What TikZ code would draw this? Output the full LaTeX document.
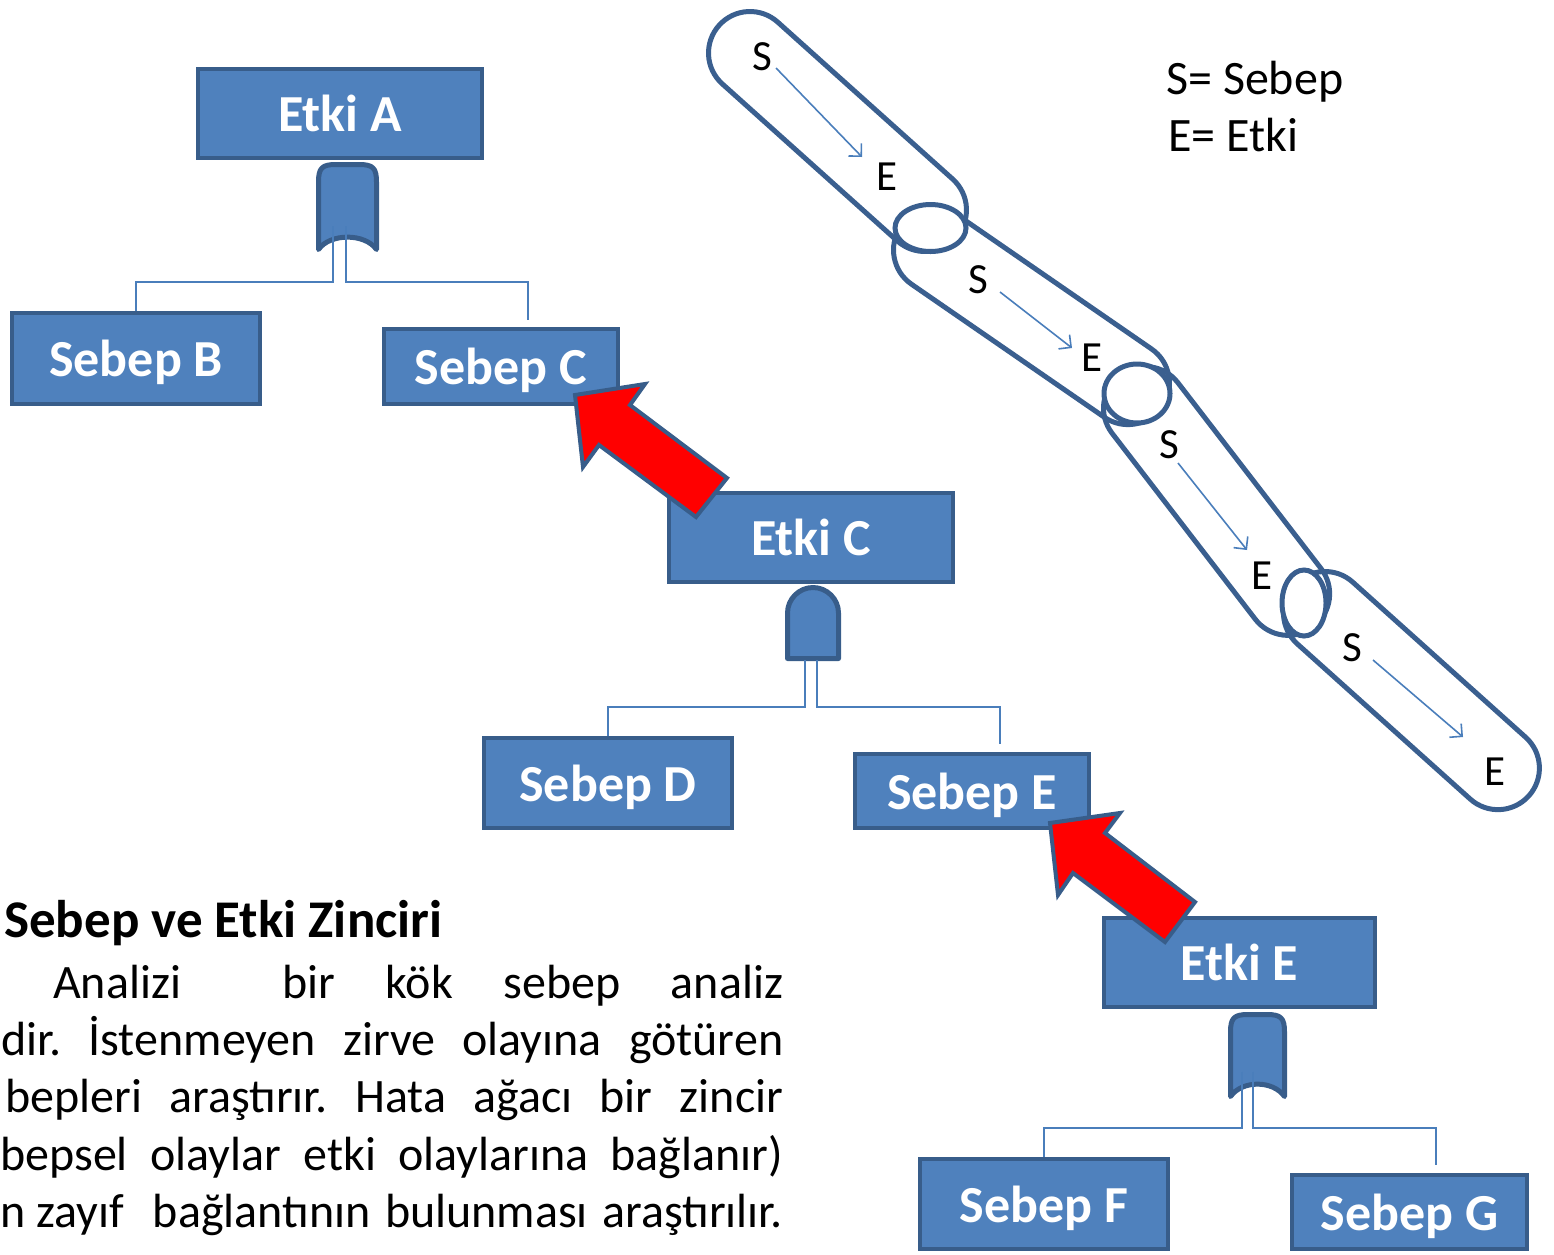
\documentclass[tikz,border=0pt]{standalone}
\usepackage{fontspec}
\setmainfont{Carlito}
\usetikzlibrary{arrows.meta}
\definecolor{boxfill}{HTML}{4F81BD}
\definecolor{boxline}{HTML}{385D8A}
\definecolor{connc}{HTML}{4A7EBB}
\definecolor{chainc}{HTML}{3A5F8F}
\tikzset{
  box/.style={draw=boxline, fill=boxfill, line width=4pt, text=white,
    font=\bfseries\fontsize{52}{60}\selectfont, inner sep=0pt, text height=36pt, text depth=0pt},
  gate/.style={draw=boxline, fill=boxfill, line width=5pt, line join=round, line cap=round},
  conn/.style={draw=connc, line width=2pt},
  chainline/.style={draw=chainc, line width=5pt},
  chainlbl/.style={font=\fontsize{43}{50}\selectfont, inner sep=0pt},
  sarrow/.style={draw=connc, line width=1.6pt, -{Straight Barb[length=9pt,width=18pt,line width=1.6pt]}},
  redarrow/.style={fill=red, draw=boxline, line width=4pt},
  bodytxt/.style={font=\fontsize{48}{57}\selectfont, inner sep=0pt, anchor=base west},
}
% capsule: #1 = length between cap centres
\newcommand\mycapsule[1]{%
  \draw[chainline] (0,-41.5) -- (#1,-41.5)
    .. controls ({#1+22.92},-41.5) and ({#1+41.5},-22.92) .. ({#1+41.5},0)
    .. controls ({#1+41.5},22.92) and ({#1+22.92},41.5) .. (#1,41.5)
    -- (0,41.5) .. controls (-22.92,41.5) and (-41.5,22.92) .. (-41.5,0)
    .. controls (-41.5,-22.92) and (-22.92,-41.5) .. (0,-41.5) -- cycle;}
\begin{document}
\begin{tikzpicture}[x=1pt,y=-1pt]
\useasboundingbox (0,0) rectangle (1554,1254);
\clip (0,0) rectangle (1554,1254);

% ---------- gates ----------
\draw[gate] (318.5,249.5) -- (318.5,182) .. controls (318.5,168) and (322,164.5) .. (336,164.5)
  -- (359,164.5) .. controls (373,164.5) and (376.5,168) .. (376.5,182) -- (376.5,249.5)
  .. controls (365,233) and (330,233) .. cycle;
\draw[gate] (787.5,658.5) -- (787.5,613) .. controls (787.5,599) and (799,587.5) .. (813,587.5)
  .. controls (827,587.5) and (838.5,599) .. (838.5,613) -- (838.5,658.5) -- cycle;
\draw[gate] (1230.5,1096.5) -- (1230.5,1032) .. controls (1230.5,1018) and (1234,1014.5) .. (1248,1014.5)
  -- (1267,1014.5) .. controls (1281,1014.5) and (1284.5,1018) .. (1284.5,1032) -- (1284.5,1096.5)
  .. controls (1273,1080) and (1242,1080) .. cycle;

% ---------- boxes ----------
\node[box, minimum width=284, minimum height=89] (eA) at (340,113.5) {Etki A};
\node[box, minimum width=248, minimum height=91] (sB) at (136,358.5) {Sebep B};
\node[box, minimum width=234, minimum height=75] (sC) at (501,366.5) {Sebep C};
\node[box, minimum width=284, minimum height=89] (eC) at (811,537.5) {Etki C};
\node[box, minimum width=248, minimum height=90] (sD) at (608,783) {Sebep D};
\node[box, minimum width=234, minimum height=74] (sE) at (972,791) {Sebep E};
\node[box, minimum width=271, minimum height=89] (eE) at (1239.5,962.5) {Etki E};
\node[box, minimum width=248, minimum height=90] (sF) at (1044,1204) {Sebep F};
\node[box, minimum width=235, minimum height=74] (sG) at (1409.5,1212) {Sebep G};

% ---------- connectors ----------
\coordinate (gAl) at (333.3,226); \coordinate (gAr) at (345.7,226);
\coordinate (jAl) at (333.3,282.3); \coordinate (jAr) at (345.7,282.3);
\coordinate (tC) at (528,320);
\draw[conn] (gAl) -- (jAl) -| (sB.north);
\draw[conn] (gAr) -- (jAr) -| (tC);

\coordinate (gCl) at (805,660); \coordinate (gCr) at (817.3,660);
\coordinate (jCl) at (805,706.7); \coordinate (jCr) at (817.3,706.7);
\coordinate (tE) at (1000,744);
\draw[conn] (gCl) -- (jCl) -| (sD.north);
\draw[conn] (gCr) -- (jCr) -| (tE);

\coordinate (gEl) at (1241.7,1071.7); \coordinate (gEr) at (1253.3,1071.7);
\coordinate (jEl) at (1241.7,1128.3); \coordinate (jEr) at (1253.3,1128.3);
\coordinate (tG) at (1436,1165);
\draw[conn] (gEl) -- (jEl) -| (sF.north);
\draw[conn] (gEr) -- (jEr) -| (tG);

% ---------- red arrows ----------
\draw[redarrow] (575,395) -- (645,384) -- (630,405) -- (727,478) -- (696,517) -- (599,445) -- (583,467) -- cycle;
\draw[redarrow] (1050,823) -- (1120,813) -- (1105,833) -- (1195,902) -- (1165,942) -- (1073,873) -- (1058,895) -- cycle;

% ---------- chain ----------
\begin{scope}[shift={(750,53)}, rotate=-41.9]\mycapsule{235.1}\end{scope}
\begin{scope}[shift={(935,250)}, rotate=-34.6]\mycapsule{234.4}\end{scope}
\begin{scope}[shift={(1145,408)}, rotate=-52.4]\mycapsule{234.6}\end{scope}
\begin{scope}[shift={(1325,613)}, rotate=-41.9]\mycapsule{232.3}\end{scope}
\draw[chainline, fill=white] (930.5,228) ellipse [x radius=35.5, y radius=23.5];
\draw[chainline, fill=white] (1137,393.5) ellipse [x radius=33, y radius=29.5];
\draw[chainline, fill=white] (1304,603) ellipse [x radius=22, y radius=33];

\node[chainlbl] (s1) at (762,57) {S};
\node[chainlbl] (e1) at (887,177) {E};
\node[chainlbl] (s2) at (978,280) {S};
\node[chainlbl] (e2) at (1092,358) {E};
\node[chainlbl] (s3) at (1169,445) {S};
\node[chainlbl] (e3) at (1262,576) {E};
\node[chainlbl] (s4) at (1352,648) {S};
\node[chainlbl] (e4) at (1495,772) {E};
\coordinate (a1s) at (776,68); \coordinate (a1e) at (862,157);
\coordinate (a2s) at (1000,292); \coordinate (a2e) at (1072,348);
\coordinate (a3s) at (1178,463); \coordinate (a3e) at (1247,550);
\coordinate (a4s) at (1373,660); \coordinate (a4e) at (1463,737);
\draw[sarrow] (a1s) -- (a1e);
\draw[sarrow] (a2s) -- (a2e);
\draw[sarrow] (a3s) -- (a3e);
\draw[sarrow] (a4s) -- (a4e);

% ---------- legend ----------
\node[bodytxt] (lg1) at (1166,94) {S= Sebep};
\node[bodytxt] (lg2) at (1168,151) {E= Etki};

% ---------- text ----------
\node[bodytxt, font=\bfseries\fontsize{53}{60}\selectfont] (hd) at (4,937) {Sebep ve Etki Zinciri};
\node[bodytxt] (t1) at (53,998) {\hbox to 730pt{Analizi\hfill\hfill bir\hfill kök\hfill sebep\hfill analiz}};
\node[bodytxt] (t2) at (1,1055) {\hbox to 782pt{dir.\hfill İstenmeyen\hfill zirve\hfill olayına\hfill götüren}};
\node[bodytxt] (t3) at (5,1112) {\hbox to 778pt{bepleri\hfill araştırır.\hfill Hata\hfill ağacı\hfill bir\hfill zincir}};
\node[bodytxt] (t4) at (0,1170) {\hbox to 783pt{bepsel\hfill olaylar\hfill etki\hfill olaylarına\hfill bağlanır)}};
\node[bodytxt] (t5) at (0,1227) {\hbox to 783pt{n zayıf\hfill\hfill bağlantının\hfill bulunması\hfill araştırılır.}};
\end{tikzpicture}
\end{document}
